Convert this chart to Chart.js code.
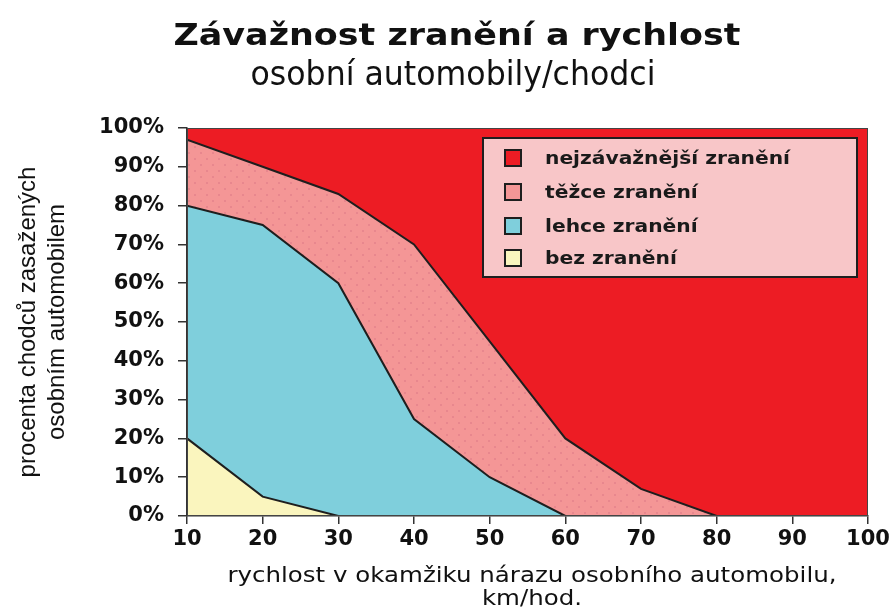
<!DOCTYPE html>
<html><head><meta charset="utf-8">
<script src="https://cdn.jsdelivr.net/npm/chart.js@4"></script>
<style>html,body{margin:0;padding:0;background:#fff}#wrap{width:894px;height:608px}</style>
</head><body><div id="wrap"><canvas id="c" width="894" height="608"></canvas></div>
<script>
// ---- data ----
const chartTitle = 'Závažnost zranění a rychlost';
const chartSubtitle = 'osobní automobily/chodci';
const xAxisTitle = ['rychlost v okamžiku nárazu osobního automobilu,', 'km/hod.'];
const yAxisTitle = ['procenta chodců zasažených', 'osobním automobilem'];
const speeds = [10, 20, 30, 40, 50, 60, 70, 80, 90, 100];
const bezZraneni = [20, 5, 0, 0, 0, 0, 0, 0, 0, 0];
const lehceZraneni = [60, 70, 60, 25, 10, 0, 0, 0, 0, 0];
const tezceZraneni = [17, 15, 23, 45, 35, 20, 7, 0, 0, 0];
const nejzavaznejsiZraneni = [3, 10, 17, 30, 55, 80, 93, 100, 100, 100];
const seriesLabels = ['bez zranění', 'lehce zranění', 'těžce zranění', 'nejzávažnější zranění'];
const xTickValues = [10, 20, 30, 40, 50, 60, 70, 80, 90, 100];
const yTickValues = [0, 10, 20, 30, 40, 50, 60, 70, 80, 90, 100];

// ---- styles ----
const COL_RED = '#ED1C24', COL_PINK = '#F49696', COL_CYAN = '#7FCFDC', COL_YELLOW = '#FAF5BE';
const LINE = '#1e1e1e';

function makePinkPattern() {
  const t = document.createElement('canvas');
  t.width = 12; t.height = 12;
  const g = t.getContext('2d');
  g.fillStyle = COL_PINK; g.fillRect(0, 0, 12, 12);
  g.fillStyle = '#E8878E';
  g.fillRect(2, 2, 2, 2);
  g.fillRect(8, 8, 2, 2);
  return g.createPattern(t, 'repeat');
}
const pinkPattern = makePinkPattern();

const toPts = arr => speeds.map((s, i) => ({x: s, y: arr[i]}));
const seriesData = [bezZraneni, lehceZraneni, tezceZraneni, nejzavaznejsiZraneni];
const fills = [COL_YELLOW, COL_CYAN, pinkPattern, COL_RED];
const swatch = [COL_YELLOW, COL_CYAN, COL_PINK, COL_RED];

function fitText(ctx, text, x, baseline, font, targetW, align) {
  ctx.save();
  ctx.font = font;
  const w = ctx.measureText(text).width;
  const s = targetW ? targetW / w : 1;
  ctx.translate(x, baseline);
  ctx.scale(s, 1);
  ctx.textAlign = align || 'center';
  ctx.textBaseline = 'alphabetic';
  ctx.fillText(text, 0, 0);
  ctx.restore();
}

const overlay = {
  id: 'overlay',
  afterDraw(chart) {
    const ctx = chart.ctx, a = chart.chartArea;
    // frame
    ctx.save();
    ctx.strokeStyle = '#444'; ctx.lineWidth = 1;
    ctx.strokeRect(a.left + 0.5, a.top + 0.5, a.right - a.left - 1, a.bottom - a.top - 1);
    ctx.restore();
    // titles
    ctx.fillStyle = '#111';
    fitText(ctx, chartTitle, 457, 45, 'bold 31px "DejaVu Sans"', 567);
    fitText(ctx, chartSubtitle, 453, 85, '34px "DejaVu Sans"', 405);
    // x axis title
    const xf = '22px "DejaVu Sans"';
    ctx.save(); ctx.font = xf;
    const sx = 609 / ctx.measureText(xAxisTitle[0]).width;
    const w2 = ctx.measureText(xAxisTitle[1]).width * sx;
    ctx.restore();
    fitText(ctx, xAxisTitle[0], 532, 582, xf, 609);
    fitText(ctx, xAxisTitle[1], 532, 605, xf, w2);
    // legend
    const bx = 483, by = 138, bw = 374, bh = 139;
    ctx.save();
    ctx.fillStyle = '#F8C6C8';
    ctx.fillRect(bx, by, bw, bh);
    ctx.strokeStyle = LINE; ctx.lineWidth = 2;
    ctx.strokeRect(bx, by, bw, bh);
    const rows = [158, 192, 226, 258];
    ctx.font = 'bold 18px "DejaVu Sans"';
    const refW = ctx.measureText(seriesLabels[3]).width;
    const sc = 245 / refW;
    for (let r = 0; r < 4; r++) {
      const idx = 3 - r;
      const cy = rows[r];
      ctx.fillStyle = swatch[idx];
      ctx.fillRect(505, cy - 8, 16, 16);
      ctx.strokeStyle = LINE; ctx.lineWidth = 2;
      ctx.strokeRect(505, cy - 8, 16, 16);
      ctx.fillStyle = '#1a1a1a';
      ctx.save();
      ctx.translate(545, cy + 6);
      ctx.scale(sc, 1);
      ctx.textAlign = 'left';
      ctx.fillText(seriesLabels[idx], 0, 0);
      ctx.restore();
    }
    ctx.restore();
  }
};

new Chart(document.getElementById('c'), {
  type: 'line',
  data: {
    datasets: seriesData.map((arr, i) => ({
      label: seriesLabels[i],
      data: toPts(arr),
      backgroundColor: fills[i],
      borderColor: LINE,
      borderWidth: 2,
      pointRadius: 0,
      tension: 0,
      fill: i === 0 ? 'origin' : '-1'
    }))
  },
  options: {
    responsive: false,
    animation: false,
    devicePixelRatio: 1,
    layout: {padding: {top: 128, right: 26, bottom: 0, left: 0}},
    plugins: {legend: {display: false}, tooltip: {enabled: false}, title: {display: false}},
    scales: {
      x: {
        type: 'linear', min: 10, max: 100,
        afterBuildTicks: s => { s.ticks = xTickValues.map(v => ({value: v})); },
        afterFit: s => { s.height = 92; },
        grid: {drawOnChartArea: false, drawTicks: true, tickLength: 8, color: '#333', lineWidth: 1.5},
        border: {display: true, color: '#333', width: 1.5},
        ticks: {padding: 3, color: '#111', font: {family: '"DejaVu Sans"', weight: 'bold', size: 21}, maxRotation: 0, autoSkip: false},
        title: {display: false}
      },
      y: {
        stacked: true, min: 0, max: 100,
        afterBuildTicks: s => { s.ticks = yTickValues.map(v => ({value: v})); },
        afterFit: s => { s.width = 187; },
        grid: {drawOnChartArea: false, drawTicks: true, tickLength: 9, color: '#333', lineWidth: 1.5},
        border: {display: true, color: '#333', width: 1.5},
        ticks: {padding: 14, color: '#111', font: {family: '"DejaVu Sans"', weight: 'bold', size: 21}, callback: v => v + '%'},
        title: {display: true, text: yAxisTitle, color: '#111', font: {family: '"Liberation Sans"', size: 24, lineHeight: 29 / 24}, padding: {top: 13.5, bottom: 0}}
      }
    }
  },
  plugins: [overlay]
});
</script>
</body></html>
